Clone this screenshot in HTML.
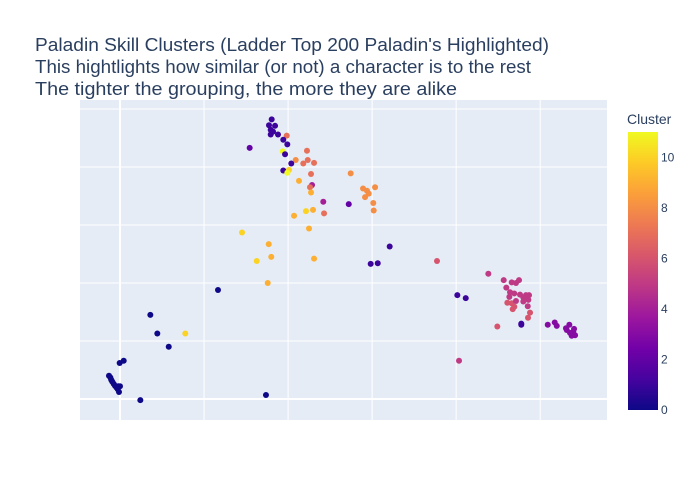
<!DOCTYPE html>
<html><head><meta charset="utf-8"><style>
body{margin:0;background:#fff;}
svg{display:block;font-family:"Liberation Sans",sans-serif;}
</style></head><body>
<svg id="chart" width="700" height="500">
<text x="35" y="51" font-size="18" fill="#2a3f5f"><tspan x="35" y="51" textLength="514" lengthAdjust="spacingAndGlyphs">Paladin Skill Clusters (Ladder Top 200 Paladin's Highlighted)</tspan><tspan x="35" y="73" textLength="496" lengthAdjust="spacingAndGlyphs">This hightlights how similar (or not) a character is to the rest</tspan><tspan x="35" y="95" textLength="422" lengthAdjust="spacingAndGlyphs">The tighter the grouping, the more they are alike</tspan></text>
<rect x="80" y="100" width="527" height="320" fill="#e5ecf6"/>
<g id="grid"></g>
<g id="pts"></g>
<defs><linearGradient id="plasma" x1="0" y1="1" x2="0" y2="0">
<stop offset="0" stop-color="#0d0887"/><stop offset="0.111" stop-color="#46039f"/><stop offset="0.222" stop-color="#7201a8"/><stop offset="0.333" stop-color="#9c179e"/><stop offset="0.444" stop-color="#bd3786"/><stop offset="0.556" stop-color="#d8576b"/><stop offset="0.667" stop-color="#ed7953"/><stop offset="0.778" stop-color="#fb9f3a"/><stop offset="0.889" stop-color="#fdca26"/><stop offset="1" stop-color="#f0f921"/>
</linearGradient></defs>
<text x="627" y="124" font-size="14" fill="#2a3f5f">Cluster</text>
<rect x="628" y="132" width="30" height="278" fill="url(#plasma)"/>
<g id="cbticks"></g>
</svg>
<script>
const clusters = [1,1,1,1,1,1,1,7,1,1,2,11,1,7,8,7,7,7,1,1,10,11,7,8,9,4,7,9,8,8,8,8,8,4,2,8,8,7,9,10,9,9,10,9,9,10,9,9,0,1,1,1,
6,5,5,5,5,5,5,5,5,5,5,5,5,5,5,6,6,5,5,5,6,6,6,6,1,1,6,1,1,3,3,3,3,3,3,3,3,5,3,3,3,
0,0,10,0,0,0,0,0,0,0,0,0,0,0,0,0,0,0,0];
const xVals = [18.05,17.73,18.45,17.93,18.21,17.93,18.8,19.84,19.43,19.91,15.43,19.36,19.64,22.25,20.91,22.34,21.81,23.09,20.38,19.43,20.11,19.91,22.73,27.45,21.3,22.85,22.61,22.73,28.92,29.39,30.35,29.6,29.16,24.19,27.22,30.14,30.19,24.28,22.97,22.13,20.71,22.49,14.52,17.7,18.0,16.27,23.09,17.58,11.66,32.09,29.83,30.67,
37.72,43.83,45.66,46.61,47.12,47.48,45.97,46.41,46.92,47.6,48.31,48.67,46.33,47.99,48.59,46.09,46.61,47.12,47.99,48.52,46.92,46.73,48.79,48.55,40.14,41.14,44.9,47.75,47.75,50.9,51.73,51.97,53.47,53.16,53.94,54.15,53.75,40.34,53.07,53.55,54.03,
3.61,4.44,7.77,5.8,-0.04,0.44,-1.31,-1.15,-1.04,-0.92,-0.75,-0.6,-0.44,-0.2,0,-0.27,-0.12,2.42,17.37];
const yVals = [48.2,47.2,47.1,46.4,46.1,45.6,45.6,45.4,44.7,43.9,43.3,42.7,42.2,42.8,41.2,41.2,40.6,40.7,40.6,39.4,39.5,39.0,38.8,38.9,37.6,36.9,36.5,35.6,36.3,35.9,36.5,35.4,34.8,34.0,33.6,33.8,32.5,32.0,32.6,32.4,31.6,29.4,28.7,26.7,24.5,23.8,24.2,20.0,18.8,26.3,23.3,23.4,
23.8,21.6,20.5,20.1,20.0,20.5,19.2,18.4,18.2,18.0,17.9,17.9,17.6,17.5,17.1,16.6,16.5,16.9,16.8,16.0,15.9,15.5,14.9,14.0,17.9,17.4,12.5,12.8,13.0,12.8,13.2,12.6,12.8,11.9,11.6,11.0,10.9,6.6,12.2,11.4,12.1,
14.5,11.3,11.3,9.0,6.2,6.6,4.0,3.7,3.3,3.0,2.6,2.3,2.0,2.2,2.2,1.7,1.2,-0.2,0.7];
const gridTicks = [0,10,20,30,40,50];
const cbTicks = [0,2,4,6,8,10];
const cMax = 11;

const X0=80,X1=607,Y0=100,Y1=420, xMin=-4.76,xMax=57.95,yMin=-3.62,yMax=51.55;
const xs=v=>X0+(v-xMin)/(xMax-xMin)*(X1-X0);
const ys=v=>Y1-(v-yMin)/(yMax-yMin)*(Y1-Y0);
const stops=["#0d0887","#46039f","#7201a8","#9c179e","#bd3786","#d8576b","#ed7953","#fb9f3a","#fdca26","#f0f921"];
function plasma(t){const p=t*(stops.length-1),i=Math.min(Math.floor(p),stops.length-2),f=p-i;
 const a=stops[i],b=stops[i+1];const h=(s,k)=>parseInt(s.substr(1+2*k,2),16);
 return "rgb("+[0,1,2].map(k=>Math.round(h(a,k)+(h(b,k)-h(a,k))*f)).join(",")+")";}
const NS="http://www.w3.org/2000/svg";
const g=document.getElementById("grid");
gridTicks.forEach(t=>{
 const l=document.createElementNS(NS,"line");
 l.setAttribute("x1",xs(t));l.setAttribute("x2",xs(t));l.setAttribute("y1",Y0);l.setAttribute("y2",Y1);
 l.setAttribute("stroke","#fff");l.setAttribute("stroke-width",t===0?2:1);
 
 
 g.appendChild(l);
 const m=document.createElementNS(NS,"line");
 m.setAttribute("x1",X0);m.setAttribute("x2",X1);m.setAttribute("y1",ys(t));m.setAttribute("y2",ys(t));
 m.setAttribute("stroke","#fff");m.setAttribute("stroke-width",t===0?2:1);
 
 
 g.appendChild(m);
});
const pg=document.getElementById("pts");
xVals.forEach((x,i)=>{
 const c=document.createElementNS(NS,"circle");
 c.setAttribute("cx",xs(x));c.setAttribute("cy",ys(yVals[i]));c.setAttribute("r",3);
 c.setAttribute("fill",plasma(clusters[i]/cMax));
 
 
 pg.appendChild(c);
});
const cb=document.getElementById("cbticks");
cbTicks.forEach(t=>{
 const tx=document.createElementNS(NS,"text");
 tx.setAttribute("x",661);tx.setAttribute("y",410-t/cMax*278+4);
 tx.setAttribute("font-size",12);tx.setAttribute("fill","#2a3f5f");
 tx.textContent=t;
 
 
 cb.appendChild(tx);
});
</script>
</body></html>
